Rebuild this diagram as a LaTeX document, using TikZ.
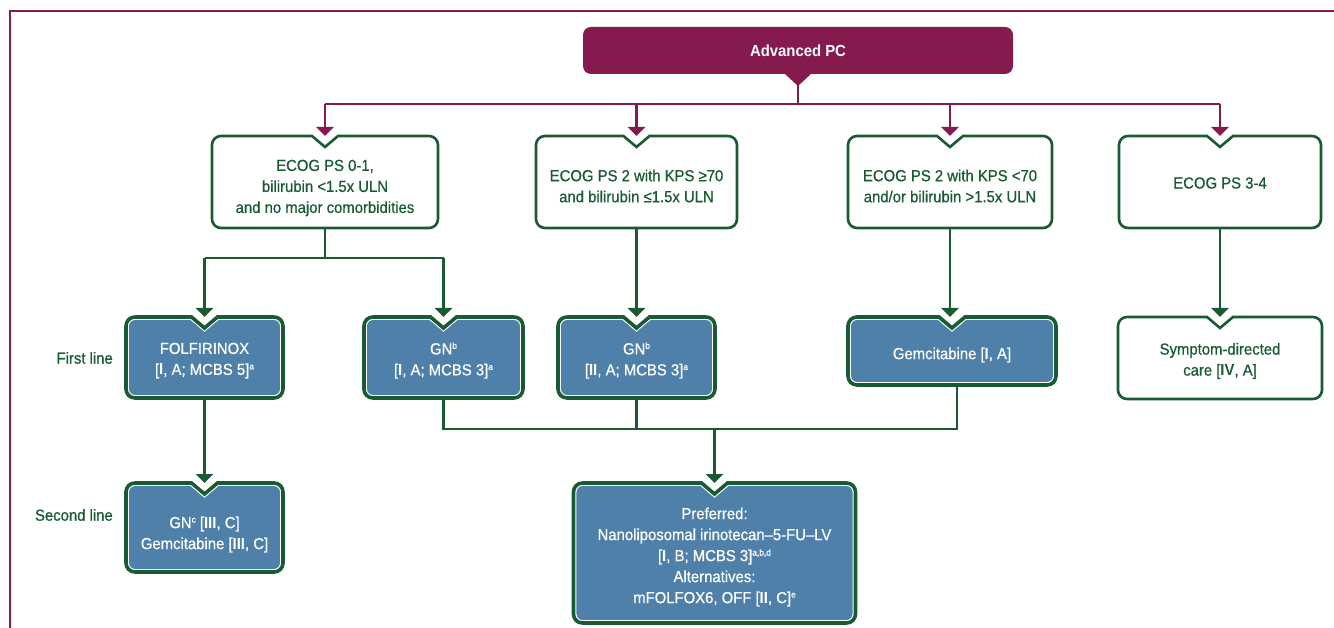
\documentclass[tikz,border=0pt]{standalone}
\usepackage{fontspec}
\setmainfont{Liberation Sans}[FakeStretch=0.93,UprightFeatures={FakeBold=0.6}]
\usetikzlibrary{arrows.meta}
\definecolor{cmar}{RGB}{132,26,78}
\definecolor{cgrn}{RGB}{24,90,50}
\definecolor{cblu}{RGB}{79,128,170}
\newcommand\sups[1]{\raisebox{5.5pt}{\fontsize{9}{9}\selectfont #1}}
\newcommand\shp[1]{([xshift=-13pt]#1.north) -- ([xshift=9pt]#1.north west) arc[start angle=90,end angle=180,radius=9pt] -- ([yshift=9pt]#1.south west) arc[start angle=180,end angle=270,radius=9pt] -- ([xshift=-9pt]#1.south east) arc[start angle=270,end angle=360,radius=9pt] -- ([yshift=-9pt]#1.north east) arc[start angle=0,end angle=90,radius=9pt] -- ([xshift=13pt]#1.north) -- ([yshift=-11pt]#1.north) -- cycle}
\newcommand\whitebox[1]{\draw[cgrn,line width=2.6pt,fill=white] \shp{#1};}
\newcommand\bluebox[1]{\begin{scope}\clip \shp{#1}; \fill[cblu] \shp{#1}; \draw[white,line width=5.8pt] \shp{#1};\end{scope}\draw[cgrn,line width=3.6pt] \shp{#1};}
\begin{document}
\begin{tikzpicture}[x=1pt,y=-1pt,font=\fontsize{16}{21}\selectfont,
  sb/.style={inner sep=0pt,outer sep=0pt,draw=none},
  gtxt/.style={text=cgrn,align=center,inner sep=0pt},
  wtxt/.style={text=white,align=center,inner sep=0pt},
  mline/.style={cmar,line width=2.2pt},
  gline/.style={cgrn,line width=2.4pt},
  marr/.style={mline,-{Triangle[width=17pt,length=9pt]}},
  garr/.style={gline,-{Triangle[width=17pt,length=9pt]}},
  advbox/.style={fill=cmar,rounded corners=8pt,inner sep=0pt,outer sep=0pt,minimum width=430pt,minimum height=47pt,text=white}]
\useasboundingbox (0,0) rectangle (1334,628);
% frame
\draw[mline] (1334,11) -- (10,11) -- (10,628);
% shape nodes
\node[advbox] (adv) at (798,50.5) {\textbf{Advanced PC}};
\node[sb,minimum width=226pt,minimum height=92pt] (b1) at (325,182) {};
\node[sb,minimum width=201pt,minimum height=92pt] (b2) at (636.5,182) {};
\node[sb,minimum width=204pt,minimum height=92pt] (b3) at (950,182) {};
\node[sb,minimum width=202pt,minimum height=92pt] (b4) at (1220,182) {};
\node[sb,minimum width=157pt,minimum height=81pt] (f1) at (204.5,357.5) {};
\node[sb,minimum width=159pt,minimum height=81pt] (g1) at (443.5,357.5) {};
\node[sb,minimum width=157pt,minimum height=81pt] (g2) at (636.5,357.5) {};
\node[sb,minimum width=208pt,minimum height=68pt] (gem) at (952,351) {};
\node[sb,minimum width=204pt,minimum height=82pt] (sym) at (1220,358) {};
\node[sb,minimum width=157pt,minimum height=89pt] (s1) at (204.5,527.5) {};
\node[sb,minimum width=282pt,minimum height=140pt] (s2) at (714.5,553) {};
% box outlines
\fill[cmar] ([xshift=-13pt]adv.south) -- ([yshift=-12pt]adv.south) -- ([xshift=13pt]adv.south) -- cycle;
\whitebox{b1}\whitebox{b2}\whitebox{b3}\whitebox{b4}\whitebox{sym}
\bluebox{f1}\bluebox{g1}\bluebox{g2}\bluebox{gem}\bluebox{s1}\bluebox{s2}
% connectors top
\coordinate (bus) at (798,104);
\draw[mline] (adv.south) -- (bus);
\draw[mline] (b1.north |- bus) -- (b4.north |- bus);
\draw[marr] (b1.north |- bus) -- (b1.north);
\draw[marr] (b2.north |- bus) -- (b2.north);
\draw[marr] (b3.north |- bus) -- (b3.north);
\draw[marr] (b4.north |- bus) -- (b4.north);
% connectors row 1 -> row 2
\coordinate (j1) at (325,258);
\draw[gline] (b1.south) -- (j1);
\draw[gline] (f1.north |- j1) -- (g1.north |- j1);
\draw[garr] (f1.north |- j1) -- (f1.north);
\draw[garr] (g1.north |- j1) -- (g1.north);
\draw[garr] (b2.south) -- (b2.south |- g2.north);
\draw[garr] (b3.south) -- (b3.south |- gem.north);
\draw[garr] (b4.south) -- (b4.south |- sym.north);
% connectors to second line
\draw[garr] (f1.south) -- (f1.south |- s1.north);
\coordinate (j2) at (714.5,429);
\draw[gline] (g1.south) |- ([xshift=5pt]gem.south |- j2) -- ([xshift=5pt]gem.south);
\draw[gline] (g2.south) -- (g2.south |- j2);
\draw[garr] (j2) -- (s2.north);
% texts
\node[gtxt] (b1t) at (325,188) {ECOG PS 0-1,\\bilirubin <1.5x ULN\\and no major comorbidities};
\node[gtxt] (b2t) at (636.5,186) {ECOG PS 2 with KPS ≥70\\and bilirubin ≤1.5x ULN};
\node[gtxt] (b3t) at (950,186) {ECOG PS 2 with KPS <70\\and/or bilirubin >1.5x ULN};
\node[gtxt] (b4t) at (1220,183) {ECOG PS 3-4};
\node[wtxt] (f1t) at (204.5,360.5) {FOLFIRINOX\\{}[\textbf{I}, A; MCBS 5]\sups{a}};
\node[wtxt] (g1t) at (443.5,360.5) {GN\sups{b}\\{}[\textbf{I}, A; MCBS 3]\sups{a}};
\node[wtxt] (g2t) at (636.5,360.5) {GN\sups{b}\\{}[\textbf{II}, A; MCBS 3]\sups{a}};
\node[wtxt] (gemt) at (952,355) {Gemcitabine [\textbf{I}, A]};
\node[gtxt] (symt) at (1220,361) {Symptom-directed\\care [\textbf{IV}, A]};
\node[wtxt] (s1t) at (204.5,534.5) {GN\sups{c} [\textbf{III}, C]\\Gemcitabine [\textbf{III}, C]};
\node[wtxt] (s2t) at (714.5,557) {Preferred:\\Nanoliposomal irinotecan–5-FU–LV\\{}[\textbf{I}, B; MCBS 3]\sups{a,b,d}\\Alternatives:\\mFOLFOX6, OFF [\textbf{II}, C]\sups{e}};
\node[gtxt,anchor=east] (l1) at (113,358) {First line};
\node[gtxt,anchor=east] (l2) at (113,515) {Second line};
\end{tikzpicture}
\end{document}
